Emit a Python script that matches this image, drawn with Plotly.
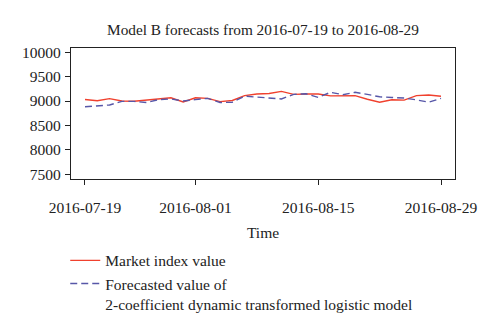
import plotly.graph_objects as go

# Trading days covered by the forecast window
dates = [
    "2016-07-19", "2016-07-20", "2016-07-21", "2016-07-22", "2016-07-25",
    "2016-07-26", "2016-07-27", "2016-07-28", "2016-07-29", "2016-08-01",
    "2016-08-02", "2016-08-03", "2016-08-04", "2016-08-05", "2016-08-08",
    "2016-08-09", "2016-08-10", "2016-08-11", "2016-08-12", "2016-08-15",
    "2016-08-16", "2016-08-17", "2016-08-18", "2016-08-19", "2016-08-22",
    "2016-08-23", "2016-08-24", "2016-08-25", "2016-08-26", "2016-08-29",
]

market_index = [
    9031, 9005, 9050, 9000, 8995, 9020, 9055, 9068, 8980, 9068,
    9055, 8988, 9012, 9110, 9145, 9155, 9198, 9136, 9143, 9143,
    9105, 9112, 9112, 9037, 8975, 9025, 9019, 9112, 9124, 9099,
]

forecast = [
    8882, 8900, 8920, 8994, 8994, 8970, 9030, 9043, 9000, 9030,
    9055, 8970, 8975, 9100, 9080, 9056, 9043, 9136, 9149, 9074,
    9180, 9130, 9180, 9136, 9087, 9074, 9062, 9025, 8975, 9056,
]

tick_dates = ["2016-07-19", "2016-08-01", "2016-08-15", "2016-08-29"]
y_ticks = [7500, 8000, 8500, 9000, 9500, 10000]
y_tick_text = [str(v) for v in y_ticks]

FONT = "Liberation Serif"
INK = "#222"

fig = go.Figure()
fig.add_trace(go.Scatter(
    x=dates, y=market_index, mode="lines",
    name="Market index value",
    line=dict(color="#f0412e", width=1.4),
))
fig.add_trace(go.Scatter(
    x=dates, y=forecast, mode="lines",
    name="Forecasted value of<br>2-coefficient dynamic transformed logistic model",
    line=dict(color="#5757a8", width=1.4, dash="7px,4px"),
))

axis_common = dict(
    showline=True, linecolor=INK, linewidth=1.2, mirror=True,
    ticks="outside", ticklen=5, tickwidth=1.1, tickcolor=INK,
    showgrid=False, zeroline=False,
    tickfont=dict(family=FONT, size=15.5, color=INK),
)

fig.update_layout(
    width=500, height=333,
    margin=dict(l=71, r=45, t=48, b=141),
    paper_bgcolor="white", plot_bgcolor="white",
    font=dict(family=FONT, size=15, color=INK),
    title=dict(
        text="Model B forecasts from 2016-07-19 to 2016-08-29",
        x=0.526, xanchor="center", y=0.91, yanchor="middle",
        font=dict(family=FONT, size=15.3, color=INK),
    ),
    xaxis=dict(
        type="category", range=[-1.14, 30.14],
        tickmode="array", tickvals=tick_dates, ticktext=tick_dates,
        ticklabelstandoff=9,
        title=dict(text="Time", font=dict(family=FONT, size=15.5, color=INK), standoff=12),
        **axis_common,
    ),
    yaxis=dict(
        range=[7401, 10088], tickmode="array",
        tickvals=y_ticks, ticktext=y_tick_text,
        ticklabelstandoff=1,
        **axis_common,
    ),
    showlegend=True,
    legend=dict(
        x=-0.015, xanchor="left", y=-0.495, yanchor="top",
        valign="top", bgcolor="rgba(0,0,0,0)",
        font=dict(family=FONT, size=15.5, color=INK),
        tracegroupgap=0,
    ),
)

fig.write_html("out.html")
